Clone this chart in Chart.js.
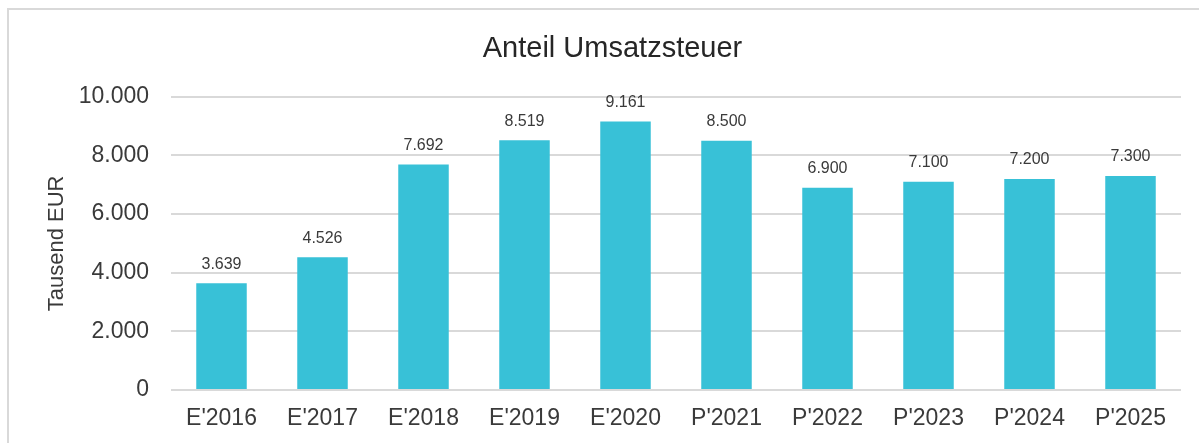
<!DOCTYPE html>
<html>
<head>
<meta charset="utf-8">
<script src="https://cdn.jsdelivr.net/npm/chart.js@4"></script>
<style>
  html, body { margin: 0; padding: 0; background: #fff; overflow: hidden; }
  #wrap { position: relative; width: 1199px; height: 443px; }
</style>
</head>
<body>
<div id="wrap"><canvas id="chart"></canvas></div>
<script>
// chart data
const categories = ["E'2016", "E'2017", "E'2018", "E'2019", "E'2020", "P'2021", "P'2022", "P'2023", "P'2024", "P'2025"];
const umsatzsteuer = [3639, 4526, 7692, 8519, 9161, 8500, 6900, 7100, 7200, 7300];
const yTicks = [0, 2000, 4000, 6000, 8000, 10000];

const textColor = '#3a3a3a';
const gridColor = '#d9d9d9';
const barColor = '#38c1d7';

function fmt(v) {
    return v.toString().replace(/\B(?=(\d{3})+(?!\d))/g, '.');
}

// light frame around the chart
const framePlugin = {
    id: 'frame',
    beforeDraw(chart) {
        const ctx = chart.ctx;
        ctx.save();
        ctx.strokeStyle = gridColor;
        ctx.lineWidth = 2;
        ctx.strokeRect(8, 9, 1300, 600);
        ctx.restore();
    }
};

// value labels above the bars
const valueLabels = {
    id: 'valueLabels',
    afterDatasetsDraw(chart) {
        const ctx = chart.ctx;
        const meta = chart.getDatasetMeta(0);
        ctx.save();
        ctx.font = '16px "Liberation Sans", Arial, sans-serif';
        ctx.fillStyle = textColor;
        ctx.textAlign = 'center';
        ctx.textBaseline = 'middle';
        meta.data.forEach((bar, i) => {
            ctx.fillText(fmt(chart.data.datasets[0].data[i]), bar.x, bar.y - 19);
        });
        ctx.restore();
    }
};

Chart.defaults.font.family = '"Liberation Sans", Arial, sans-serif';
Chart.defaults.color = textColor;

new Chart(document.getElementById('chart'), {
    type: 'bar',
    data: {
        labels: categories,
        datasets: [{
            data: umsatzsteuer,
            backgroundColor: barColor,
            borderWidth: 0,
            categoryPercentage: 1,
            barPercentage: 0.5
        }]
    },
    options: {
        responsive: true,
        maintainAspectRatio: false,
        animation: false,
        layout: { padding: { left: 44, right: 18, top: 0, bottom: 0 } },
        plugins: {
            legend: { display: false },
            tooltip: { enabled: false },
            title: {
                display: true,
                text: 'Anteil Umsatzsteuer',
                color: '#262626',
                font: { size: 29, weight: 'normal' },
                padding: { top: 32, bottom: 30 }
            }
        },
        scales: {
            x: {
                grid: { display: false },
                border: { display: false },
                ticks: { color: textColor, font: { size: 23 }, padding: 7, maxRotation: 0 },
                afterFit(scale) { scale.height = 53; }
            },
            y: {
                min: 0,
                max: 10000,
                afterBuildTicks(scale) {
                    scale.ticks = yTicks.map(v => ({ value: v }));
                },
                grid: { color: gridColor, lineWidth: 2, drawTicks: false },
                border: { display: false },
                ticks: {
                    color: textColor,
                    font: { size: 23 },
                    padding: 22,
                    callback: v => fmt(v)
                },
                title: {
                    display: true,
                    text: 'Tausend EUR',
                    color: textColor,
                    font: { size: 22 },
                    padding: { top: 0, bottom: 0 }
                },
                afterFit(scale) { scale.width = 171 - 44; }
            }
        }
    },
    plugins: [framePlugin, valueLabels]
});
</script>
</body>
</html>
